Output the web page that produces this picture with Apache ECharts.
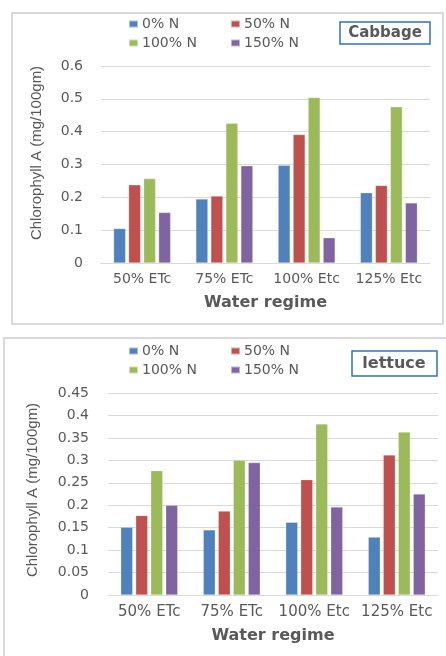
<!DOCTYPE html>
<html><head><meta charset="utf-8">
<script src="https://cdn.jsdelivr.net/npm/echarts@6/dist/echarts.min.js"></script>
<style>html,body{margin:0;padding:0;background:#fff}#c{width:446px;height:656px}</style>
</head><body><div id="c"></div>
<script>
const categories = ['50% ETc', '75% ETc', '100% Etc', '125% Etc'];
const seriesNames = ['0% N', '50% N', '100% N', '150% N'];
const cabbage0 = [0.105, 0.195, 0.298, 0.214];
const cabbage50 = [0.238, 0.204, 0.391, 0.236];
const cabbage100 = [0.257, 0.426, 0.504, 0.476];
const cabbage150 = [0.154, 0.296, 0.077, 0.183];
const lettuce0 = [0.151, 0.145, 0.162, 0.129];
const lettuce50 = [0.177, 0.187, 0.257, 0.312];
const lettuce100 = [0.277, 0.300, 0.381, 0.363];
const lettuce150 = [0.200, 0.295, 0.196, 0.225];
const colors = ['#4f81bd', '#c0504d', '#9bbb59', '#8064a2'];

const cabbageData = [cabbage0, cabbage50, cabbage100, cabbage150];
const lettuceData = [lettuce0, lettuce50, lettuce100, lettuce150];
const txt = '#595959';
const font = '"DejaVu Sans", Verdana, sans-serif';

function legends(top) {
  const base = {orient: 'vertical', itemWidth: 9, itemHeight: 7, itemGap: 5, icon: 'rect',
    textStyle: {color: txt, fontSize: 14, fontFamily: font, padding: [0, 0, 0, -1]}, padding: 0};
  return [
    Object.assign({}, base, {left: 128, top: top, data: [seriesNames[0], seriesNames[2]]}),
    Object.assign({}, base, {left: 230, top: top, data: [seriesNames[1], seriesNames[3]]})
  ];
}
function mkX(gi) {
  return {type: 'category', gridIndex: gi, data: categories,
    axisLine: {lineStyle: {color: '#d9d9d9', width: 1}}, axisTick: {show: false},
    axisLabel: {color: txt, fontSize: gi === 0 ? 14 : 15, fontFamily: font, margin: gi === 0 ? 9 : 10, interval: 0, hideOverlap: false},
    name: 'Water regime', nameLocation: 'middle', nameGap: gi === 0 ? 32 : 33,
    nameTextStyle: {color: txt, fontSize: 16, fontWeight: 'bold', fontFamily: font}};
}
function mkY(gi, max, interval) {
  return {type: 'value', gridIndex: gi, min: 0, max: max, interval: interval,
    axisLine: {show: false}, axisTick: {show: false},
    splitLine: {lineStyle: {color: '#d9d9d9', width: 1}},
    axisLabel: {color: txt, fontSize: 14, fontFamily: font, margin: gi === 0 ? 18 : 19}};
}
const series = [];
cabbageData.forEach((d, i) => series.push({type: 'bar', name: seriesNames[i], xAxisIndex: 0, yAxisIndex: 0,
  data: d, barWidth: 12, barGap: '25%', itemStyle: {color: colors[i], borderColor: 'rgba(255,255,255,0.5)', borderWidth: 0.5}}));
lettuceData.forEach((d, i) => series.push({type: 'bar', name: seriesNames[i], xAxisIndex: 1, yAxisIndex: 1,
  data: d, barWidth: 12, barGap: '25%', itemStyle: {color: colors[i], borderColor: 'rgba(255,255,255,0.5)', borderWidth: 0.5}}));

const chart = echarts.init(document.getElementById('c'), null, {renderer: 'canvas'});
chart.setOption({
  animation: false,
  color: colors,
  legend: legends(17).concat(legends(344)),
  grid: [
    {left: 101, top: 66, width: 329, height: 197},
    {left: 108, top: 393, width: 330, height: 202}
  ],
  xAxis: [mkX(0), mkX(1)],
  yAxis: [mkY(0, 0.6, 0.1), mkY(1, 0.45, 0.05)],
  series: series,
  graphic: [
    {type: 'rect', shape: {x: 12, y: 13, width: 431, height: 311}, style: {fill: 'none', stroke: '#d9d9d9', lineWidth: 2}, z: -1},
    {type: 'rect', shape: {x: 4, y: 338, width: 460, height: 340}, style: {fill: 'none', stroke: '#d9d9d9', lineWidth: 2}, z: -1},
    {type: 'rect', shape: {x: 340, y: 22, width: 90, height: 22}, style: {fill: '#fff', stroke: '#2e75b6', lineWidth: 1.5}},
    {type: 'text', x: 385, y: 33, style: {text: 'Cabbage', fill: txt, font: 'bold 15px "DejaVu Sans"', textAlign: 'center', textVerticalAlign: 'middle'}},
    {type: 'rect', shape: {x: 352, y: 351, width: 85, height: 25}, style: {fill: '#fff', stroke: '#2e75b6', lineWidth: 1.5}},
    {type: 'text', x: 394, y: 364, style: {text: 'lettuce', fill: txt, font: 'bold 16px "DejaVu Sans"', textAlign: 'center', textVerticalAlign: 'middle'}},
    {type: 'text', x: 37, y: 153, rotation: Math.PI / 2, style: {text: 'Chlorophyll A (mg/100gm)', fill: txt, font: '15px "Liberation Sans"', textAlign: 'center', textVerticalAlign: 'middle'}},
    {type: 'text', x: 33, y: 490, rotation: Math.PI / 2, style: {text: 'Chlorophyll A (mg/100gm)', fill: txt, font: '15px "Liberation Sans"', textAlign: 'center', textVerticalAlign: 'middle'}}
  ]
});
</script></body></html>
